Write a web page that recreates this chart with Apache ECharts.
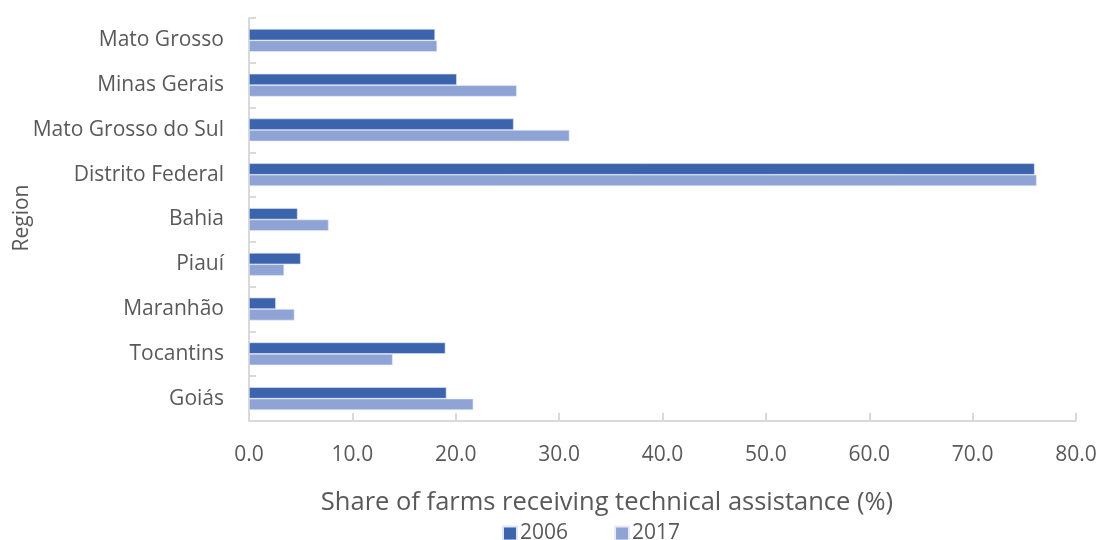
<!DOCTYPE html>
<html>
<head>
<meta charset="utf-8">
<script src="https://cdn.jsdelivr.net/npm/echarts@6/dist/echarts.min.js"></script>
<style>html,body{margin:0;padding:0;background:#fff}#c{width:1100px;height:540px}</style>
</head>
<body>
<div id="c"></div>
<script>
const categories = ['Mato Grosso', 'Minas Gerais', 'Mato Grosso do Sul', 'Distrito Federal', 'Bahia', 'Piauí', 'Maranhão', 'Tocantins', 'Goiás'];
const values2006 = [18.0, 20.1, 25.6, 76.0, 4.7, 5.0, 2.6, 19.0, 19.1];
const values2017 = [18.2, 25.9, 31.0, 76.2, 7.7, 3.4, 4.4, 13.9, 21.7];
const xTicks = [0, 80, 10];
const xAxisTitle = 'Share of farms receiving technical assistance (%)';
const yAxisTitle = 'Region';

const FONT = '"Open Sans", "Noto Sans", sans-serif';
const chart = echarts.init(document.getElementById('c'), null, {renderer: 'canvas'});
chart.setOption({
  animation: false,
  textStyle: {fontFamily: FONT},
  title: {
    text: xAxisTitle,
    left: 602, top: 485,
    textAlign: 'center',
    textStyle: {fontFamily: FONT, fontSize: 25.5, fontWeight: 'normal', color: '#595959'}
  },
  graphic: [{
    type: 'text', x: 22, y: 218, rotation: Math.PI / 2,
    style: {text: yAxisTitle, font: '21px ' + FONT, fill: '#595959', align: 'center', verticalAlign: 'middle'}
  }],
  legend: {
    data: ['2006', '2017'],
    left: 497, top: 518,
    itemWidth: 14, itemHeight: 14, itemGap: 46,
    icon: 'rect',
    textStyle: {fontFamily: FONT, fontSize: 21, color: '#595959', padding: [0, 0, 0, -2]}
  },
  grid: {left: 249, right: 24, top: 18, bottom: 119, containLabel: false, outerBoundsMode: 'none'},
  xAxis: {
    type: 'value', min: xTicks[0], max: xTicks[1], interval: xTicks[2],
    axisLine: {show: true, lineStyle: {color: '#d9d9d9', width: 2}},
    axisTick: {show: true, inside: true, length: 8, lineStyle: {color: '#d9d9d9', width: 2}},
    splitLine: {show: false},
    axisLabel: {fontFamily: FONT, fontSize: 21, color: '#595959', margin: 24, formatter: v => v.toFixed(1)}
  },
  yAxis: {
    type: 'category', data: categories, inverse: true,
    axisLine: {show: true, lineStyle: {color: '#d9d9d9', width: 2}},
    axisTick: {show: true, inside: true, length: 7, lineStyle: {color: '#d9d9d9', width: 2}},
    axisLabel: {fontFamily: FONT, fontSize: 21, color: '#595959', margin: 25}
  },
  series: [
    {name: '2006', type: 'bar', data: values2006, barGap: '0%', barCategoryGap: '49%',
     itemStyle: {color: '#3b64ad', borderColor: '#dfe6f3', borderWidth: 0.6}},
    {name: '2017', type: 'bar', data: values2017, barGap: '0%', barCategoryGap: '49%',
     itemStyle: {color: '#8fa4d5', borderColor: '#e6ebf6', borderWidth: 0.6}}
  ]
});
</script>
</body>
</html>
